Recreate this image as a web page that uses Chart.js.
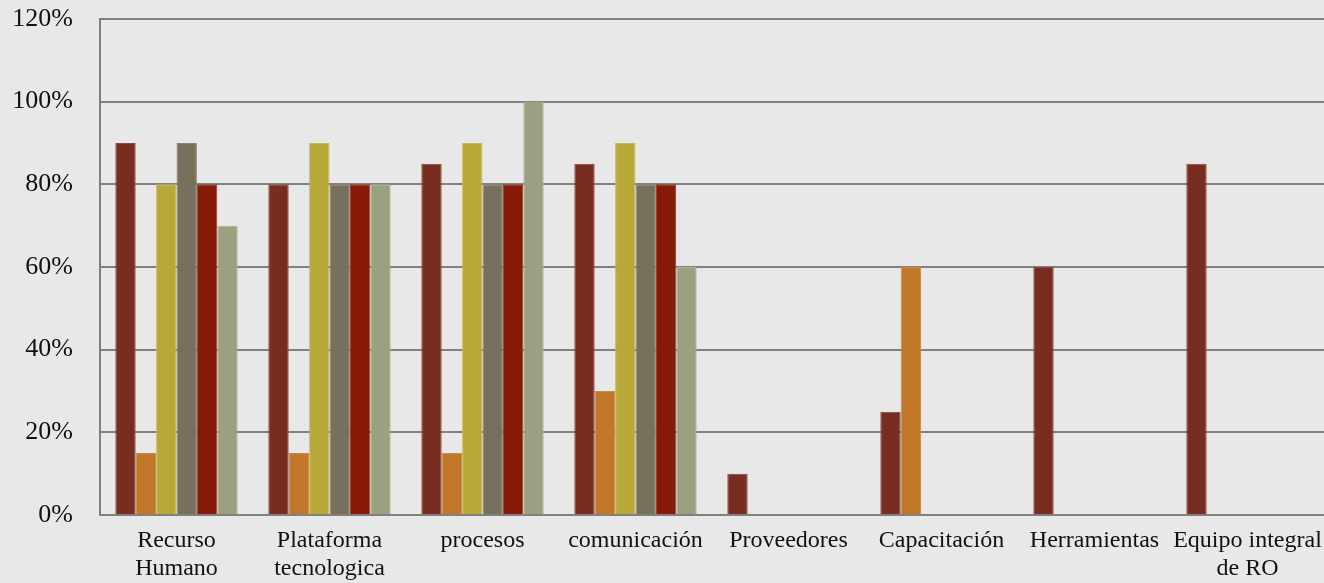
<!DOCTYPE html>
<html>
<head>
<meta charset="utf-8">
<script src="https://cdn.jsdelivr.net/npm/chart.js@4/dist/chart.umd.min.js"></script>
<style>
  html, body { margin: 0; padding: 0; background: #e8e8e8; }
  #wrap { width: 1324px; height: 583px; position: relative; }
</style>
</head>
<body>
<div id="wrap"><canvas id="chart"></canvas></div>
<script>
const categories = [
    ['Recurso', 'Humano'],
    ['Plataforma', 'tecnologica'],
    'procesos',
    'comunicación',
    'Proveedores',
    'Capacitación',
    'Herramientas',
    ['Equipo integral', 'de RO']
];

// valores en porcentaje, null = sin barra
const serie1 = [90, 80, 85, 85, 10, 25, 60, 85];
const serie2 = [15, 15, 15, 30, null, 60, null, null];
const serie3 = [80, 90, 90, 90, null, null, null, null];
const serie4 = [90, 80, 80, 80, null, null, null, null];
const serie5 = [80, 80, 80, 80, null, null, null, null];
const serie6 = [70, 80, 100, 60, null, null, null, null];

const yTicks = [0, 20, 40, 60, 80, 100, 120];

const colores = ['#772e20', '#c0772a', '#b8a838', '#77705d', '#871b08', '#9ba080'];
const bordes = ['#8c4a3d', '#c98a45', '#c6b85a', '#8a8473', '#9a3a2a', '#aeb296'];

const series = [serie1, serie2, serie3, serie4, serie5, serie6];

const ctx = document.getElementById('chart').getContext('2d');
new Chart(ctx, {
    type: 'bar',
    data: {
        labels: categories,
        datasets: series.map((data, i) => ({
            label: 'Serie ' + (i + 1),
            data: data,
            backgroundColor: colores[i],
            borderColor: bordes[i],
            borderWidth: 1,
            categoryPercentage: 0.8,
            barPercentage: 1.0
        }))
    },
    options: {
        responsive: true,
        maintainAspectRatio: false,
        animation: false,
        layout: { padding: 0 },
        plugins: {
            legend: { display: false },
            tooltip: { enabled: false }
        },
        scales: {
            x: {
                grid: { display: false, drawTicks: false },
                border: { display: false },
                ticks: {
                    color: '#111',
                    padding: 11,
                    maxRotation: 0,
                    autoSkip: false,
                    font: { family: 'Liberation Serif', size: 24, lineHeight: 1.2 }
                },
                afterFit: function(scale) {
                    scale.paddingRight = 0;
                    scale.paddingLeft = 0;
                    scale.height = 68;
                }
            },
            y: {
                min: 0,
                max: 120,
                afterBuildTicks: function(scale) {
                    scale.ticks = yTicks.map(v => ({ value: v }));
                },
                grid: { color: '#808080', lineWidth: 2, drawTicks: false },
                border: { display: true, color: '#808080', width: 2 },
                ticks: {
                    color: '#111',
                    padding: 27,
                    font: { family: 'Liberation Serif', size: 26 },
                    callback: v => v + '%'
                },
                afterFit: function(scale) {
                    scale.width = 100;
                    scale.paddingTop = 19;
                    scale.paddingBottom = 0;
                }
            }
        }
    }
});
</script>
</body>
</html>
